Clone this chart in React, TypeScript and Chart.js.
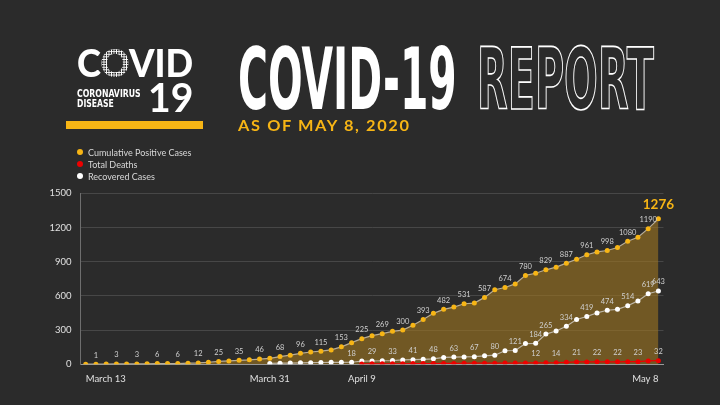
import React, { useEffect, useLayoutEffect, useRef, useState } from "react";
import { Chart, registerables } from "chart.js";

Chart.register(...registerables);

const dates = [
  "March 13", "March 14", "March 15", "March 16", "March 17", "March 18", "March 19", "March 20",
  "March 21", "March 22", "March 23", "March 24", "March 25", "March 26", "March 27", "March 28",
  "March 29", "March 30", "March 31",
  "April 1", "April 2", "April 3", "April 4", "April 5", "April 6", "April 7", "April 8", "April 9",
  "April 10", "April 11", "April 12", "April 13", "April 14", "April 15", "April 16", "April 17",
  "April 18", "April 19", "April 20", "April 21", "April 22", "April 23", "April 24", "April 25",
  "April 26", "April 27", "April 28", "April 29", "April 30",
  "May 1", "May 2", "May 3", "May 4", "May 5", "May 6", "May 7", "May 8",
];

const shownDates = ["March 13", "March 31", "April 9", "May 8"];

const positiveCases = [
  1, 1, 2, 3, 3, 3, 5, 6, 6, 6, 10, 12, 18, 25, 30, 35, 39, 46, 52,
  68, 80, 96, 108, 115, 126, 153, 190, 225, 251, 269, 289, 300, 342, 393, 447, 482, 502,
  531, 537, 587, 654, 674, 705, 780, 799, 829, 852, 887, 922, 961, 986, 998, 1024, 1080,
  1115, 1190, 1276,
];

const recoveredCases = [
  null, null, null, null, null, null, null, null, null, null, null, null, null, null, null,
  null, null, null,
  8, 10, 11, 13, 14, 16, 17, 17, 18, 28, 29, 31, 33, 38, 41, 44, 48, 60, 63, 65, 67, 74,
  80, 119, 121, 182, 184, 265, 292, 334, 393, 419, 451, 474, 482, 514, 556, 619, 643,
];

const totalDeaths = [
  null, null, null, null, null, null, null, null, null, null, null, null, null, null, null,
  null, null, null, null, null, null, null, null, null, null, null, null,
  3, 4, 4, 5, 5, 6, 7, 7, 8, 8, 9, 10, 10, 10, 11, 11, 12, 12, 13, 14, 17, 21, 21, 22, 22,
  22, 23, 23, 30, 32,
];

const yTicks = [0, 300, 600, 900, 1200, 1500];

// indices of points that carry a value label
const positiveLabelIdx = [1, 3, 5, 7, 9, 11, 13, 15, 17, 19, 21, 23, 25, 27, 29, 31, 33, 35, 37, 39, 41, 43, 45, 47, 49, 51, 53, 55];
const recoveredLabelIdx = [26, 28, 30, 32, 34, 36, 38, 40, 42, 44, 45, 47, 49, 51, 53, 55, 56];
const deathsLabelIdx = [44, 46, 48, 50, 52, 54, 56];

const BG = "#2b2b2b";
const YELLOW = "#f7b515";
const RED = "#ee0000";
const COND = "'DejaVu Sans Condensed', 'DejaVu Sans', sans-serif";

const labelPlugin = {
  id: "valueLabels",
  afterDatasetsDraw(chart: any) {
    const ctx = chart.ctx;
    chart.data.datasets.forEach((ds: any, di: number) => {
      const meta = chart.getDatasetMeta(di);
      const idxs: number[] = ds.labelIdx || [];
      ctx.save();
      ctx.font = "7.5px Lato";
      ctx.fillStyle = "#d0d0d0";
      ctx.textAlign = "center";
      ctx.textBaseline = "middle";
      idxs.forEach((i) => {
        const el = meta.data[i];
        const v = ds.data[i];
        if (el && v != null) ctx.fillText(String(v), el.x, el.y - 9);
      });
      if (ds.highlightLast) {
        const last = ds.data.length - 1;
        const el = meta.data[last];
        ctx.font = "bold 13.5px Lato";
        ctx.fillStyle = YELLOW;
        ctx.fillText(String(ds.data[last]), el.x, el.y - 14);
      }
      ctx.restore();
    });
  },
};

function FitText({ x, top, width, style, children }: any) {
  const ref = useRef<HTMLSpanElement>(null);
  const [s, setS] = useState(1);
  useLayoutEffect(() => {
    const el = ref.current;
    if (!el) return;
    const w = el.offsetWidth;
    if (w > 0) setS(width / w);
  }, [width]);
  return (
    <span
      ref={ref}
      style={{
        position: "absolute",
        left: x,
        top,
        whiteSpace: "nowrap",
        display: "inline-block",
        lineHeight: 1,
        transform: `scaleX(${s})`,
        transformOrigin: "0 0",
        ...style,
      }}
    >
      {children}
    </span>
  );
}

function ChartCanvas() {
  const ref = useRef<HTMLCanvasElement>(null);
  useEffect(() => {
    if (!ref.current) return;
    Chart.defaults.font.family = "Lato";
    const chart = new Chart(ref.current, {
      type: "line",
      data: {
        labels: dates,
        datasets: [
          {
            label: "Total Deaths",
            data: totalDeaths,
            borderColor: RED,
            borderWidth: 1.2,
            pointBackgroundColor: RED,
            pointBorderWidth: 0,
            pointRadius: 2.5,
            fill: false,
            order: 1,
            labelIdx: deathsLabelIdx,
          } as any,
          {
            label: "Recovered Cases",
            data: recoveredCases,
            borderColor: "rgba(205,200,190,0.85)",
            borderWidth: 1.2,
            pointBackgroundColor: "#ffffff",
            pointBorderWidth: 0,
            pointRadius: 2.5,
            fill: false,
            order: 2,
            labelIdx: recoveredLabelIdx,
          } as any,
          {
            label: "Cumulative Positive Cases",
            data: positiveCases,
            borderColor: "rgba(195,185,165,0.9)",
            borderWidth: 1.2,
            pointBackgroundColor: YELLOW,
            pointBorderWidth: 0,
            pointRadius: 2.5,
            fill: "origin",
            backgroundColor: "rgba(160,118,32,0.6)",
            order: 3,
            labelIdx: positiveLabelIdx,
            highlightLast: true,
          } as any,
        ],
      },
      options: {
        responsive: false,
        animation: false,
        layout: { padding: { top: 193.3, right: 56.5, bottom: 10.7, left: 0 } },
        plugins: {
          legend: { display: false },
          tooltip: { enabled: false },
        },
        scales: {
          x: {
            type: "category",
            offset: true,
            afterFit: (s: any) => {
              s.height = 30;
            },
            grid: { display: false, drawTicks: false },
            border: { display: true, color: "#9a9a9a", width: 1 },
            ticks: {
              autoSkip: false,
              maxRotation: 0,
              align: "inner",
              padding: 9,
              color: "#e0e0e0",
              font: { size: 9.5, family: "Lato" },
              callback: function (this: any, value: any) {
                const lab = this.getLabelForValue(value);
                return shownDates.includes(lab) ? lab : "";
              },
            },
          },
          y: {
            min: yTicks[0],
            max: yTicks[yTicks.length - 1],
            afterFit: (s: any) => {
              s.width = 80.6;
            },
            afterBuildTicks: (s: any) => {
              s.ticks = yTicks.map((v) => ({ value: v }));
            },
            grid: { color: "#474747", drawTicks: false, lineWidth: 1 },
            border: { display: true, color: "#6e6e6e", width: 1 },
            ticks: {
              padding: 9,
              color: "#e0e0e0",
              font: { size: 9.5, family: "Lato" },
              callback: (v: any) => String(v),
            },
          },
        },
      } as any,
      plugins: [labelPlugin],
    });
    return () => chart.destroy();
  }, []);
  return (
    <canvas
      ref={ref}
      width={720}
      height={405}
      style={{ position: "absolute", left: 0, top: 0, width: 720, height: 405 }}
    />
  );
}

const legendItems = [
  { label: "Cumulative Positive Cases", color: YELLOW },
  { label: "Total Deaths", color: RED },
  { label: "Recovered Cases", color: "#ffffff" },
];

export default function App() {
  return (
    <div
      style={{
        position: "fixed",
        left: 0,
        top: 0,
        width: 720,
        height: 405,
        background: BG,
        overflow: "hidden",
        fontFamily: "Lato, sans-serif",
      }}
    >
      <ChartCanvas />

      {/* logo */}
      <FitText x={77} top={43.6} width={116} style={{ fontFamily: "Lato", fontWeight: 900, fontSize: 37.6, color: "#fff" }}>
        C
        <span
          style={{
            backgroundImage: "radial-gradient(circle, #ffffff 0.9px, transparent 1.2px)",
            backgroundSize: "2.6px 2.6px",
            WebkitBackgroundClip: "text",
            backgroundClip: "text",
            color: "transparent",
          }}
        >
          O
        </span>
        VID
      </FitText>
      <FitText x={77.3} top={88} width={63.4} style={{ fontFamily: COND, fontWeight: 700, fontStretch: "condensed", fontSize: 10.5, color: "#fff" }}>
        CORONAVIRUS
      </FitText>
      <FitText x={77.3} top={98.3} width={36.7} style={{ fontFamily: COND, fontWeight: 700, fontStretch: "condensed", fontSize: 10.5, color: "#fff" }}>
        DISEASE
      </FitText>
      <FitText x={147.7} top={76.5} width={45} style={{ fontFamily: "Lato", fontWeight: 700, fontSize: 40, color: "#fff" }}>
        19
      </FitText>
      <div style={{ position: "absolute", left: 65.7, top: 120.7, width: 137.6, height: 8.3, background: YELLOW }} />

      {/* title */}
      <FitText x={237.7} top={36} width={219} style={{ fontFamily: COND, fontWeight: 700, fontStretch: "condensed", fontSize: 86, color: "#fff" }}>
        COVID-19
      </FitText>
      <FitText
        x={476.7}
        top={36}
        width={176.6}
        style={{
          fontFamily: COND,
          fontWeight: 700,
          fontStretch: "condensed",
          fontSize: 86,
          color: BG,
          WebkitTextStroke: "1.6px #ffffff",
        }}
      >
        REPORT
      </FitText>
      <FitText x={237.7} top={118.1} width={172.3} style={{ fontFamily: "Lato", fontWeight: 700, fontSize: 15.3, color: YELLOW, letterSpacing: 1.5 }}>
        AS OF MAY 8, 2020
      </FitText>

      {/* legend */}
      {legendItems.map((it, i) => (
        <div
          key={it.label}
          style={{
            position: "absolute",
            left: 77,
            top: 146.3 + i * 12,
            height: 12,
            display: "flex",
            alignItems: "center",
            whiteSpace: "nowrap",
          }}
        >
          <span style={{ width: 6, height: 6, borderRadius: 3, background: it.color, display: "inline-block" }} />
          <span style={{ marginLeft: 5, fontSize: 9, color: "#d8d8d8", fontFamily: "Lato" }}>{it.label}</span>
        </div>
      ))}
    </div>
  );
}
